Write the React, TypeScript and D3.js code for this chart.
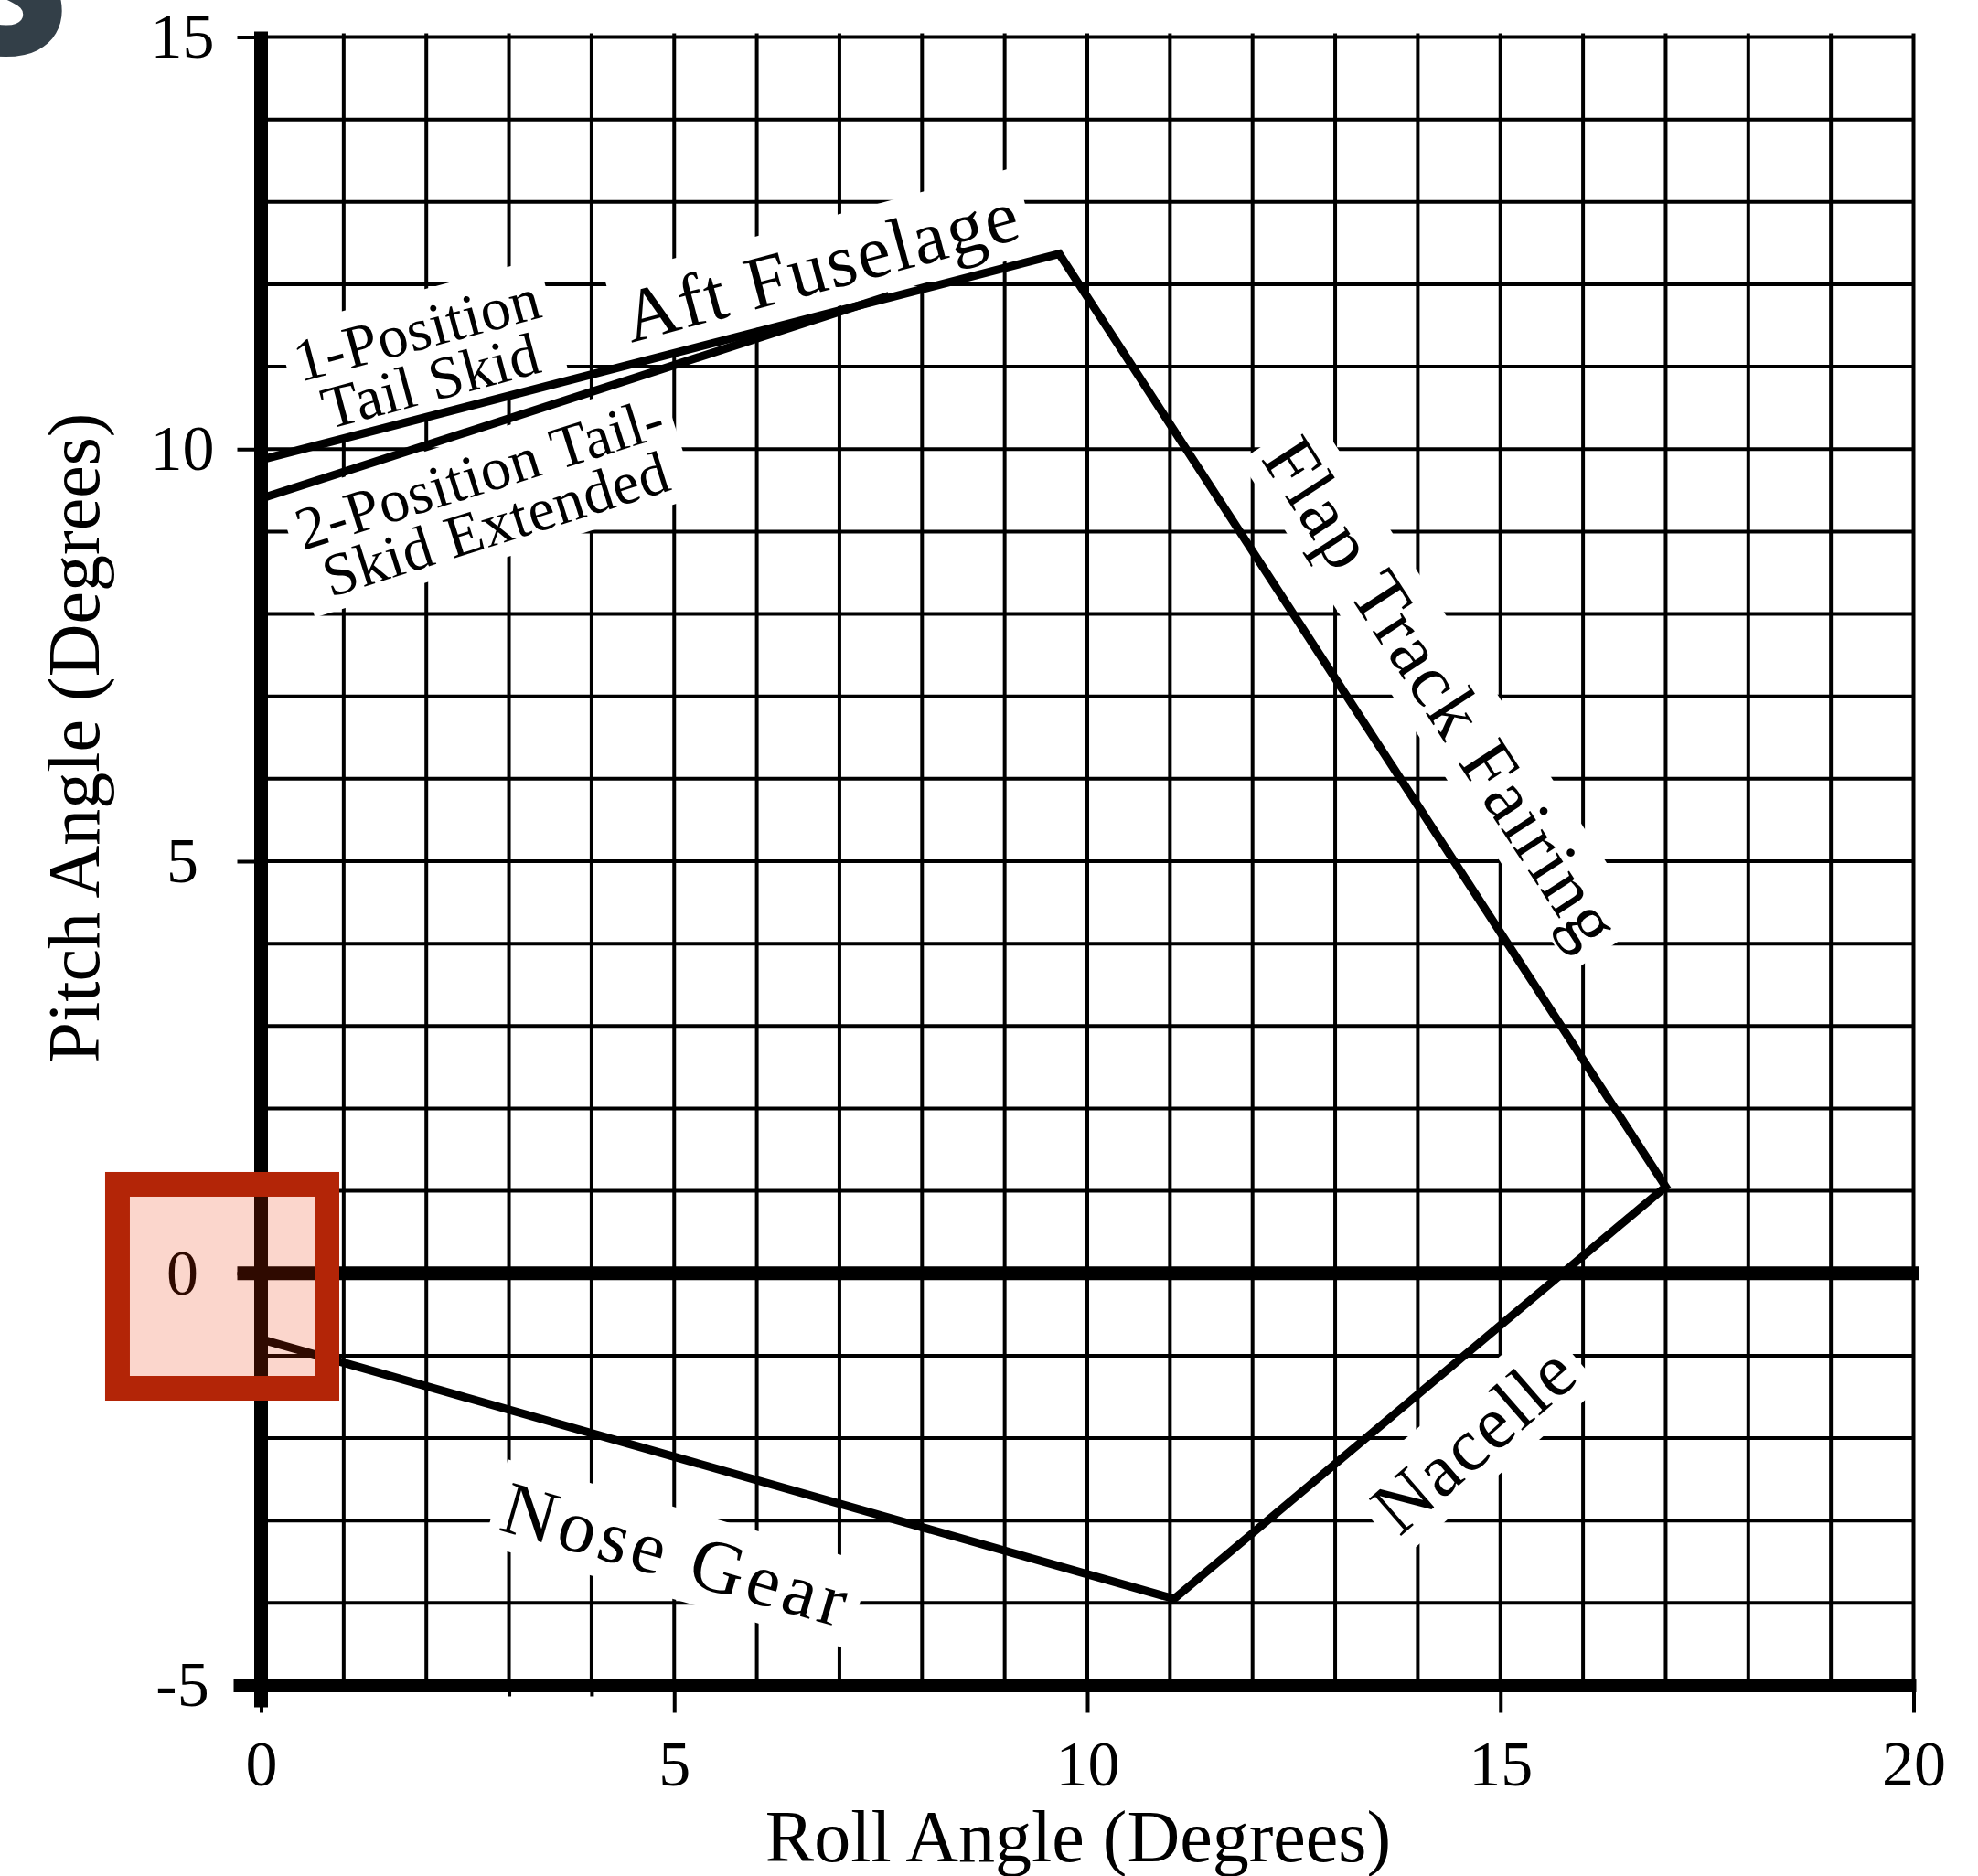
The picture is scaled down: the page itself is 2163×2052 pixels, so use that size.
import React, { useEffect, useRef } from 'react';
import * as d3 from 'd3';

const W = 2163;
const H = 2052;

// clearance envelope, roll vs pitch (degrees)
const envelopeRoll = [0, 9.66, 17.0, 11.05, 0];
const envelopePitch = [9.87, 12.37, 1.05, -3.95, -0.8];

// 2-position tail skid extended
const skidRoll = [0, 7.6];
const skidPitch = [9.4, 11.86];

const xTickValues = [0, 5, 10, 15, 20];
const xMinorTicks = [3, 4];
const yTickValues = [-5, 0, 5, 10, 15];

// annotations
const labelText = [
    ['1-Position', 'Tail Skid'],
    ['2-Position Tail-', 'Skid Extended'],
    ['Aft Fuselage'],
    ['Flap Track Fairing'],
    ['Nacelle'],
    ['Nose Gear'],
];
const labelRoll = [1.95, 2.72, 6.86, 14.04, 14.88, 4.95];
const labelPitch = [11.21, 9.47, 11.93, 6.88, -2.24, -3.71];
const labelAngle = [-15, -17.5, -15, 57, -41, 16];

// highlighted region around the origin
const highlightRoll = [-1.738, 0.797];
const highlightPitch = [1.079, -1.395];

export default function App() {
    const svgRef = useRef<SVGSVGElement>(null);

    useEffect(() => {
        if (!svgRef.current) return;
        const svg = d3.select(svgRef.current);
        svg.selectAll('*').remove();

        const serif = '"Liberation Serif", "Times New Roman", serif';
        const x = d3.scaleLinear().domain([0, 20]).range([285.5, 2092.5]);
        const y = d3.scaleLinear().domain([-5, 15]).range([1843.5, 40.5]);

        svg.append('rect').attr('width', W).attr('height', H).attr('fill', '#fff');

        // cropped glyph in the corner
        svg.append('text')
            .attr('x', -52)
            .attr('y', 60)
            .attr('font-family', '"Open Sans", sans-serif')
            .attr('font-weight', 800)
            .attr('font-size', 220)
            .attr('fill', '#333f48')
            .text('S');

        // grid
        const grid = svg.append('g').attr('stroke', '#000').attr('stroke-width', 4);
        d3.range(0, 21).forEach(v => {
            grid.append('line')
                .attr('x1', x(v)).attr('x2', x(v))
                .attr('y1', y(15) - 4).attr('y2', y(-5));
        });
        d3.range(-5, 16).forEach(v => {
            grid.append('line')
                .attr('x1', x(0)).attr('x2', x(20))
                .attr('y1', y(v)).attr('y2', y(v));
        });

        // axes
        const xAxis = svg.append('g')
            .attr('transform', `translate(0, ${y(-5)})`)
            .call(d3.axisBottom(x).tickValues(xTickValues).tickSize(30).tickPadding(30).tickFormat(d => String(d)));
        const xMinor = svg.append('g')
            .attr('transform', `translate(0, ${y(-5)})`)
            .call(d3.axisBottom(x).tickValues(xMinorTicks).tickSize(12).tickFormat(() => ''));
        const yAxis = svg.append('g')
            .attr('transform', `translate(${x(0)}, 0)`)
            .call(d3.axisLeft(y).tickValues(yTickValues).tickSize(26).tickFormat(d => String(d)));

        [xAxis, xMinor, yAxis].forEach(g => {
            g.select('.domain').remove();
            g.selectAll('line').attr('stroke', '#000').attr('stroke-width', 4);
            g.selectAll('text')
                .attr('fill', '#000')
                .style('font-family', serif)
                .style('font-size', '70px');
        });
        yAxis.selectAll('text').attr('text-anchor', 'middle').attr('x', -86);

        // white boxes behind annotations, text drawn later on top
        const boxLayer = svg.append('g');

        // heavy lines: pitch axis, roll axis, zero pitch
        const heavy = svg.append('g').attr('stroke', '#000').attr('stroke-width', 15);
        heavy.append('line')
            .attr('x1', x(0)).attr('x2', x(0))
            .attr('y1', y(15) - 6).attr('y2', y(-5) + 24);
        heavy.append('line')
            .attr('x1', x(0) - 30).attr('x2', x(20) + 3)
            .attr('y1', y(-5)).attr('y2', y(-5));
        heavy.append('line')
            .attr('x1', x(0) - 26).attr('x2', x(20) + 6)
            .attr('y1', y(0)).attr('y2', y(0));

        // envelope lines
        const envelopeLine = d3.line<number>()
            .x(i => x(envelopeRoll[i]))
            .y(i => y(envelopePitch[i]));
        svg.append('path')
            .attr('d', envelopeLine(d3.range(envelopeRoll.length)))
            .attr('fill', 'none')
            .attr('stroke', '#000')
            .attr('stroke-width', 9)
            .attr('stroke-linejoin', 'miter');

        const skidLine = d3.line<number>()
            .x(i => x(skidRoll[i]))
            .y(i => y(skidPitch[i]));
        svg.append('path')
            .attr('d', skidLine(d3.range(skidRoll.length)))
            .attr('fill', 'none')
            .attr('stroke', '#000')
            .attr('stroke-width', 9);

        // annotation text
        const textLayer = svg.append('g');
        labelText.forEach((lines, i) => {
            const small = lines.length > 1;
            const transform = `translate(${x(labelRoll[i])}, ${y(labelPitch[i])}) rotate(${labelAngle[i]})`;
            const g = textLayer.append('g').attr('transform', transform);
            const t = g.append('text')
                .attr('text-anchor', 'middle')
                .attr('fill', '#000')
                .style('font-family', serif)
                .style('font-size', small ? '66px' : '82px')
                .style('letter-spacing', small ? '0.5px' : i === 5 ? '5px' : '2px');
            lines.forEach((line, j) => {
                t.append('tspan').attr('x', 0).attr('dy', j === 0 ? 0 : 58).text(line);
            });
            const bb = (t.node() as SVGTextElement).getBBox();
            boxLayer.append('rect')
                .attr('transform', transform)
                .attr('x', bb.x - 10)
                .attr('y', bb.y - 4)
                .attr('width', bb.width + 20)
                .attr('height', bb.height + 6)
                .attr('fill', '#fff');
        });

        // axis titles
        svg.append('text')
            .attr('x', 1179)
            .attr('y', 2036)
            .attr('text-anchor', 'middle')
            .style('font-family', serif)
            .style('font-size', '80px')
            .text('Roll Angle (Degrees)');
        svg.append('text')
            .attr('transform', 'translate(108, 807) rotate(-90)')
            .attr('text-anchor', 'middle')
            .style('font-family', serif)
            .style('font-size', '80px')
            .text('Pitch Angle (Degrees)');

        // highlight box
        svg.append('rect')
            .attr('x', x(highlightRoll[0]))
            .attr('y', y(highlightPitch[0]))
            .attr('width', x(highlightRoll[1]) - x(highlightRoll[0]))
            .attr('height', y(highlightPitch[1]) - y(highlightPitch[0]))
            .attr('fill', 'rgba(235, 50, 0, 0.2)')
            .attr('stroke', '#b32507')
            .attr('stroke-width', 27);
    }, []);

    return (
        <svg
            ref={svgRef}
            width={W}
            height={H}
            style={{ position: 'absolute', left: 0, top: 0, display: 'block' }}
        />
    );
}
